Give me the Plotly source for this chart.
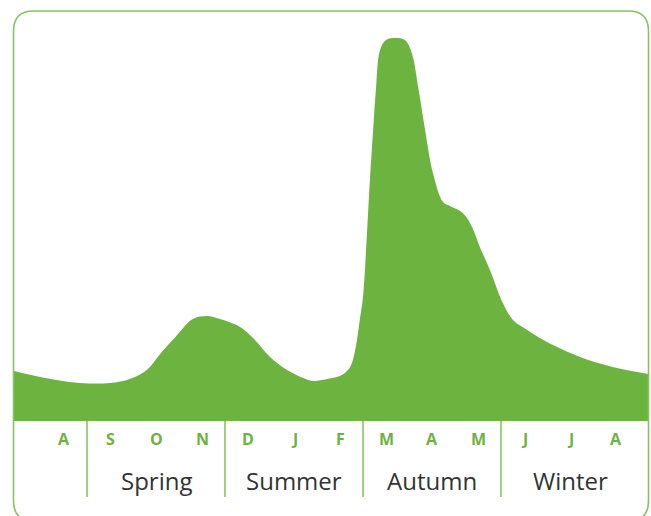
import plotly.graph_objects as go

# ---- data ----
# month position (0 = August, 1 = September, ... 12 = August) and relative flow level
months = ["A", "S", "O", "N", "D", "J", "F", "M", "A", "M", "J", "J", "A"]
seasons = ["Spring", "Summer", "Autumn", "Winter"]
season_centers = [2, 5, 8, 11]
season_bounds = [0.5, 3.5, 6.5, 9.5]

time_pos = [-1.09, -0.41, 0.35, 1.0, 1.43, 1.8, 2.09, 2.46, 2.8, 3.11, 3.39, 3.83,
            4.11, 4.48, 4.85, 5.2, 5.41, 5.72, 6.04, 6.22, 6.33, 6.43, 6.5, 6.59,
            6.65, 6.72, 6.78, 6.87, 7.0, 7.2, 7.41, 7.56, 7.7, 7.85, 8.02, 8.24,
            8.39, 8.67, 8.87, 9.04, 9.26, 9.54, 9.76, 10.07, 10.5, 11.22, 11.93, 12.7]
flow = [50, 43, 38, 38, 42, 51, 67, 86, 102, 105, 102, 94,
        83, 64, 51, 43, 40, 42, 46, 54, 71, 101, 124, 191,
        241, 291, 331, 371, 381, 383, 381, 368, 334, 291, 248, 219,
        215, 208, 194, 174, 151, 118, 101, 91, 79, 64, 54, 47]

GREEN = "#6db33f"
BORDER = "#86c45f"
TEXT = "#333333"
W, H = 651, 516

fig = go.Figure()
fig.add_trace(go.Scatter(
    x=time_pos, y=flow, mode="lines", fill="tozeroy",
    fillcolor=GREEN, line=dict(color=GREEN, width=0, shape="spline", smoothing=1.0),
    hoverinfo="skip", showlegend=False))

# x: px = 64 + 46*m ; y: h = 421 - py
fig.update_xaxes(range=[(0 - 64) / 46, (W - 64) / 46], visible=False, fixedrange=True)
fig.update_yaxes(range=[421 - H, 421], visible=False, fixedrange=True)

def px(x):
    return x / W

def py(y):
    return 1 - y / H

# rounded border
L, R, T, B, r = 13.5, 648.5, 11, 521, 20
path = (f"M {px(L + r)},{py(T)} L {px(R - r)},{py(T)} "
        f"Q {px(R)},{py(T)} {px(R)},{py(T + r)} "
        f"L {px(R)},{py(B - r)} Q {px(R)},{py(B)} {px(R - r)},{py(B)} "
        f"L {px(L + r)},{py(B)} Q {px(L)},{py(B)} {px(L)},{py(B - r)} "
        f"L {px(L)},{py(T + r)} Q {px(L)},{py(T)} {px(L + r)},{py(T)} Z")
shapes = [dict(type="path", path=path, xref="paper", yref="paper",
               line=dict(color=BORDER, width=1.6), layer="above")]
for b in season_bounds:
    shapes.append(dict(type="line", xref="x", yref="y", x0=b, x1=b, y0=0, y1=-76,
                       line=dict(color=BORDER, width=1.6)))

annotations = []
for i, m in enumerate(months):
    annotations.append(dict(x=i, y=-18, xref="x", yref="y", text=f"<b>{m}</b>",
                            showarrow=False, font=dict(family="Open Sans", size=16, color=GREEN)))
for s, c in zip(seasons, season_centers):
    annotations.append(dict(x=c, y=-59, xref="x", yref="y", text=s, showarrow=False,
                            font=dict(family="Open Sans", size=24, color=TEXT)))

fig.update_layout(width=W, height=H, margin=dict(l=0, r=0, t=0, b=0),
                  paper_bgcolor="white", plot_bgcolor="white",
                  shapes=shapes, annotations=annotations)
fig.write_html("out.html", config={"displayModeBar": False},
               post_script="document.body.style.margin='0';document.body.style.overflow='hidden';")
